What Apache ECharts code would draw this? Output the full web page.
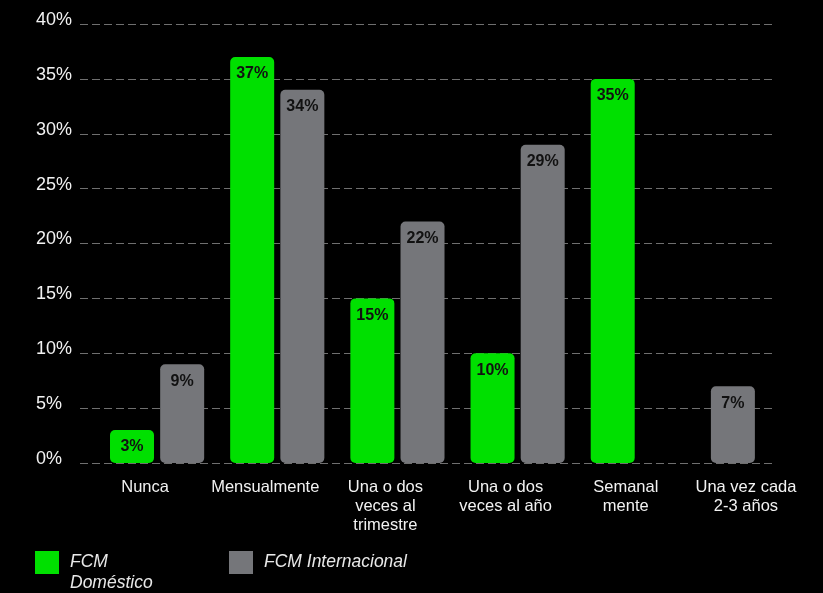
<!DOCTYPE html>
<html>
<head>
<meta charset="utf-8">
<script src="https://cdn.jsdelivr.net/npm/echarts@6/dist/echarts.min.js"></script>
<style>
html,body{margin:0;padding:0;background:#000;}
#c{width:823px;height:593px;}
</style>
</head>
<body>
<div id="c"></div>
<script>
const categories = ['Nunca', 'Mensualmente', 'Una o dos\nveces al\ntrimestre', 'Una o dos\nveces al año', 'Semanal\nmente', 'Una vez cada\n2-3 años'];
const seriesNames = ['FCM Doméstico', 'FCM Internacional'];
const domestic = [3, 37, 15, 10, 35, null];
const international = [9, 34, 22, 29, null, 7];
const yTicks = [0, 5, 10, 15, 20, 25, 30, 35, 40];

const GREEN = '#00E000';
const GRAY = '#75767A';

// gray bars without a green partner take the first slot of their group
const intlPaired = international.map((v, i) => domestic[i] == null ? null : v);
const intlAlone = international.map((v, i) => domestic[i] == null ? v : null);

const labelStyle = {
  show: true, position: 'insideTop', distance: 9,
  formatter: p => p.value + '%',
  color: '#111', fontFamily: 'Liberation Sans', fontWeight: 'bold', fontSize: 16
};
const barBase = {
  type: 'bar', xAxisIndex: 1, yAxisIndex: 1, barWidth: 44, barGap: '14%',
  label: labelStyle
};

const chart = echarts.init(document.getElementById('c'), null, {renderer: 'canvas'});
chart.setOption({
  backgroundColor: '#000',
  animation: false,
  grid: [
    {left: 80, right: 48, top: 24, bottom: 130},
    {left: 97, right: 0, top: 24, bottom: 130}
  ],
  xAxis: [
    {type: 'category', gridIndex: 0, show: false, data: categories},
    {
      type: 'category', gridIndex: 1, data: categories,
      axisLine: {show: false}, axisTick: {show: false}, splitLine: {show: false},
      axisLabel: {
        interval: 0, margin: 15, color: '#f2f2f2', fontFamily: 'Liberation Sans',
        fontSize: 16.5, lineHeight: 19, padding: [0, 24, 0, 0]
      }
    }
  ],
  yAxis: [
    {
      type: 'value', gridIndex: 0, min: yTicks[0], max: yTicks[yTicks.length - 1], interval: 5,
      axisLine: {show: false}, axisTick: {show: false},
      axisLabel: {
        formatter: '{value}%', align: 'left', margin: 44, color: '#f2f2f2',
        fontFamily: 'Liberation Sans', fontSize: 18, verticalAlign: 'bottom', lineHeight: 8
      },
      splitLine: {show: true, lineStyle: {color: '#6f6f6f', type: [8, 4], width: 1}}
    },
    {
      type: 'value', gridIndex: 1, min: yTicks[0], max: yTicks[yTicks.length - 1], interval: 5,
      show: false, splitLine: {show: false}
    }
  ],
  legend: {
    left: 35, top: 531, padding: 0, itemGap: 9,
    itemWidth: 24, itemHeight: 23, icon: 'rect',
    data: seriesNames,
    formatter: n => n === seriesNames[0] ? '\u00a0\n' + n.replace(' ', '\n') : n,
    textStyle: {
      color: '#e8e8e8', fontFamily: 'Liberation Sans', fontStyle: 'italic',
      fontSize: 17.5, lineHeight: 21, width: 150, padding: [0, 0, 0, 6]
    }
  },
  series: [
    Object.assign({}, barBase, {
      name: seriesNames[0], data: domestic, stack: 'slot1',
      itemStyle: {color: GREEN, borderRadius: 5}
    }),
    Object.assign({}, barBase, {
      name: seriesNames[1], data: intlPaired,
      itemStyle: {color: GRAY, borderRadius: 5}
    }),
    Object.assign({}, barBase, {
      name: seriesNames[1], data: intlAlone, stack: 'slot1',
      itemStyle: {color: GRAY, borderRadius: 5}
    })
  ]
});
</script>
</body>
</html>
